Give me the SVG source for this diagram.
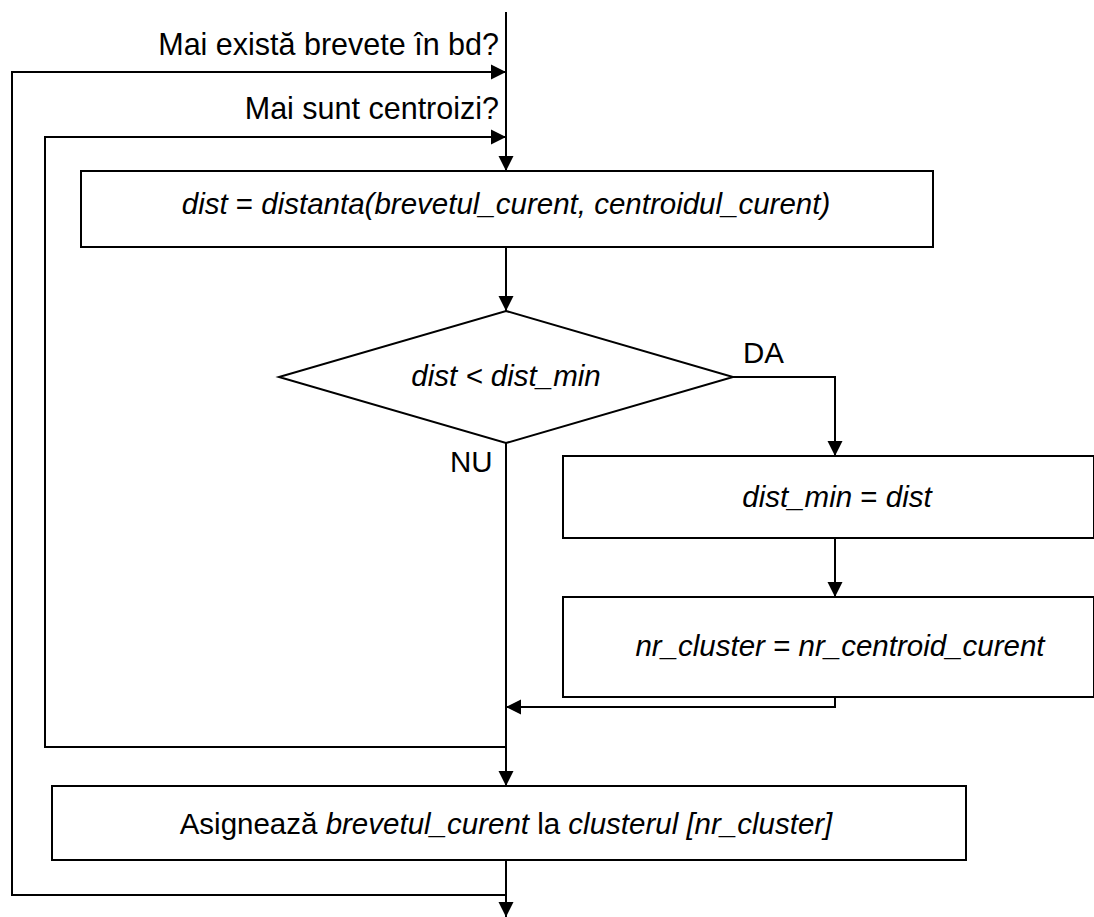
<svg xmlns="http://www.w3.org/2000/svg" width="1094" height="917" viewBox="0 0 1094 917">
  <defs>
    <marker id="arrow" markerUnits="userSpaceOnUse" markerWidth="16" markerHeight="16" viewBox="0 0 16 16" refX="15" refY="8" orient="auto">
      <path d="M0,0.5 L15,8 L0,15.5 Z" fill="#000"/>
    </marker>
    <style>
      .box { fill: #fff; stroke: #000; stroke-width: 2; }
      .wire { fill: none; stroke: #000; stroke-width: 2; }
      .lbl { font-family: "Liberation Sans", Arial, sans-serif; font-size: 29.5px; fill: #000; }
      .big { font-size: 30.5px; }
      .it { font-style: italic; }
    </style>
  </defs>
  <rect width="1094" height="917" fill="#fff"/>

  <!-- connectors -->
  <g id="connectors">
    <!-- main flow -->
    <path class="wire" d="M506,12 V171" marker-end="url(#arrow)"/>
    <path class="wire" d="M506,247 V311" marker-end="url(#arrow)"/>
    <path class="wire" d="M506,443 V786" marker-end="url(#arrow)"/>
    <path class="wire" d="M506,860 V917" marker-end="url(#arrow)"/>
    <!-- outer loop: more patents -->
    <path class="wire" d="M506,895 H12 V72 H506" marker-end="url(#arrow)"/>
    <!-- inner loop: more centroids -->
    <path class="wire" d="M506,747 H45 V137 H506" marker-end="url(#arrow)"/>
    <!-- DA branch -->
    <path class="wire" d="M733,377 H835 V456" marker-end="url(#arrow)"/>
    <path class="wire" d="M835,538 V597" marker-end="url(#arrow)"/>
    <path class="wire" d="M835,697 V707 H506" marker-end="url(#arrow)"/>
  </g>

  <!-- loop and branch labels -->
  <g id="loop-labels">
    <text class="lbl big" x="499" y="55" text-anchor="end">Mai există brevete în bd?</text>
    <text class="lbl big" x="499" y="119" text-anchor="end">Mai sunt centroizi?</text>
    <text class="lbl" x="743" y="363">DA</text>
    <text class="lbl" x="450" y="472">NU</text>
  </g>

  <g id="calc-dist">
    <rect class="box" x="81" y="171" width="852" height="76"/>
    <text class="lbl" x="506" y="214" text-anchor="middle"><tspan class="it">dist</tspan> = <tspan class="it">distanta(brevetul_curent, centroidul_curent)</tspan></text>
  </g>

  <g id="compare">
    <polygon class="box" points="506,311 733,377 506,443 279,377"/>
    <text class="lbl it" x="506" y="386" text-anchor="middle">dist &lt; dist_min</text>
  </g>

  <g id="set-min">
    <rect class="box" x="563" y="456" width="531" height="82"/>
    <text class="lbl" x="837" y="507" text-anchor="middle"><tspan class="it">dist_min</tspan> = <tspan class="it">dist</tspan></text>
  </g>

  <g id="set-cluster">
    <rect class="box" x="563" y="597" width="531" height="100"/>
    <text class="lbl" x="840" y="656" text-anchor="middle"><tspan class="it">nr_cluster</tspan> = <tspan class="it">nr_centroid_curent</tspan></text>
  </g>

  <g id="assign">
    <rect class="box" x="52" y="786" width="914" height="74"/>
    <text class="lbl" x="506" y="834" text-anchor="middle">Asignează <tspan class="it">brevetul_curent</tspan> la <tspan class="it">clusterul [nr_cluster]</tspan></text>
  </g>
</svg>
